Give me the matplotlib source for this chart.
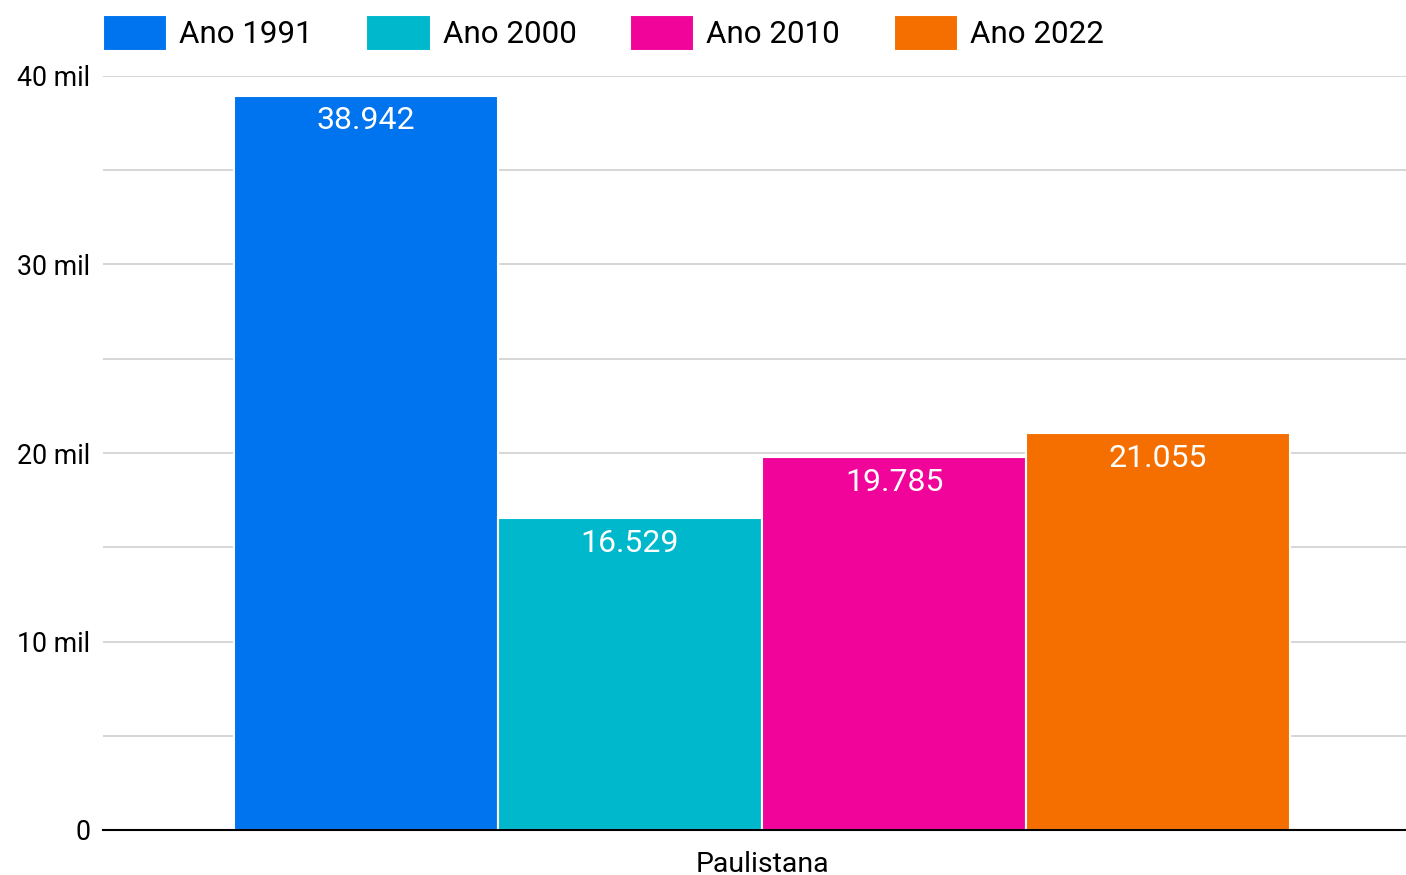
import matplotlib.pyplot as plt
from matplotlib.ticker import FuncFormatter, MultipleLocator

# Data
category = "Paulistana"
series = ["Ano 1991", "Ano 2000", "Ano 2010", "Ano 2022"]
values = [38942, 16529, 19785, 21055]
colors = ["#0073ee", "#00b8cc", "#f0049a", "#f56f00"]

plt.rcParams["font.family"] = ["Roboto", "DejaVu Sans"]

fig = plt.figure(figsize=(14.06, 8.75), dpi=100)
ax = fig.add_axes([103 / 1406, 1 - 830 / 875, 1 - 103 / 1406, (830 - 76) / 875])

offsets = [-1.5, -0.5, 0.5, 1.5]
for off, name, val, col in zip(offsets, series, values, colors):
    ax.bar(off, val, width=1.0, color=col, edgecolor="white",
           linewidth=1.5, label=name, zorder=3)
    label = f"{val:,}".replace(",", ".")
    ax.text(off, val - 1780, label, ha="center", va="baseline", color="white",
            fontsize=23, zorder=4)

# group centre sits at pixel 762, one bar slot = 264 px
ax.set_xlim((103 - 762) / 264, (1406 - 762) / 264)
ax.set_ylim(0, 40000)
ax.set_xticks([0])
ax.set_xticklabels([category], fontsize=20.5)

ax.yaxis.set_major_locator(MultipleLocator(10000))
ax.yaxis.set_minor_locator(MultipleLocator(5000))
ax.yaxis.set_major_formatter(
    FuncFormatter(lambda v, p: "0" if v == 0 else f"{int(v / 1000)} mil"))
ax.tick_params(axis="y", labelsize=19.3, length=0, pad=9, which="both")
ax.tick_params(axis="x", length=0, pad=15)
ax.grid(axis="y", which="both", color="#d0d0d0", linewidth=1.2, zorder=0)

for s in ["top", "right", "left"]:
    ax.spines[s].set_visible(False)
ax.spines["bottom"].set_color("black")
ax.spines["bottom"].set_linewidth(1.5)
ax.spines["bottom"].set_zorder(5)

handles, labels = ax.get_legend_handles_labels()
fig.legend(handles, labels, loc="center left",
           bbox_to_anchor=(103 / 1406, 1 - 33 / 875), ncol=4,
           frameon=False, fontsize=22.6, handlelength=2.05,
           handleheight=1.4, handletextpad=0.38, columnspacing=1.705,
           borderaxespad=0, borderpad=0)

fig.savefig("out.png", dpi=100)
